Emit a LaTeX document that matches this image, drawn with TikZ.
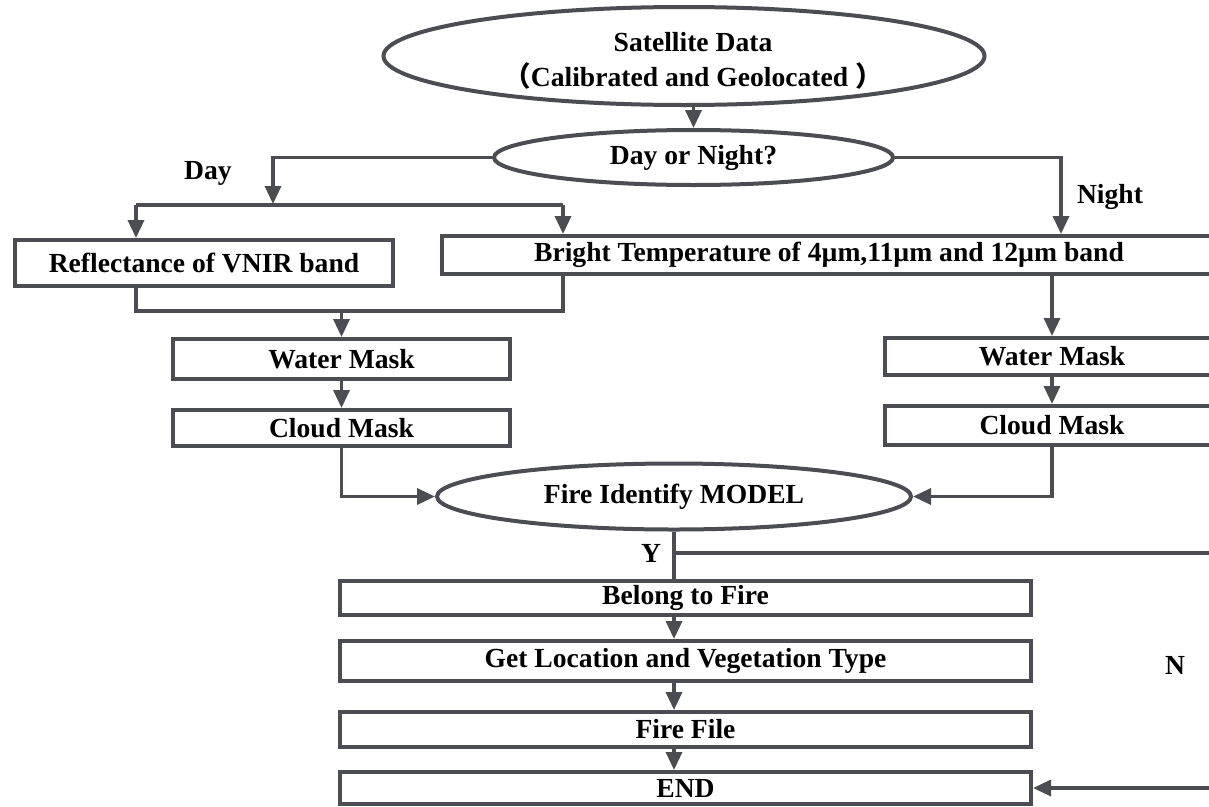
\documentclass[tikz,border=0pt]{standalone}
\usepackage{fontspec}
\setmainfont{Liberation Serif}
\newfontfamily\cjk{Noto Sans CJK SC}
\usetikzlibrary{arrows.meta,shapes.geometric,calc}
\definecolor{linegrey}{RGB}{76,77,83}
\begin{document}
\begin{tikzpicture}[x=1pt,y=-1pt,
  every node/.style={font=\fontsize{27.6}{35}\selectfont\bfseries, text=black},
  box/.style={draw=linegrey, line width=4pt, fill=white, inner sep=0pt},
  oval/.style={ellipse, draw=linegrey, line width=4pt, fill=white, inner sep=0pt},
  link/.style={draw=linegrey, line width=3.4pt},
  arr/.style={link, -{Triangle[length=18pt,width=16pt]}},
  lbl/.style={inner sep=0pt}
]
\useasboundingbox (0,0) rectangle (1209,806);
\fill[white] (0,0) rectangle (1209,806);
\clip (0,0) rectangle (1209,806);

% ---- ovals ----
\node[oval, minimum width=601pt, minimum height=98pt] (sat) at (684,56) {};
\node[align=center, lbl] (sattxt) at (693,61)
  {Satellite Data\\{\cjk （}Calibrated and Geolocated {\cjk ）}};
\node[oval, minimum width=399pt, minimum height=55pt] (dn) at (693.5,157.5) {Day or Night?};
\node[oval, minimum width=474pt, minimum height=66pt] (fire) at (674,496.5) {Fire Identify MODEL};

% ---- first-level boxes ----
\node[box, minimum width=378pt, minimum height=46pt] (refl) at (204,263) {Reflectance of VNIR band};
\node[box, minimum width=774pt, minimum height=38pt] (bright) at (829,255)
  {Bright Temperature of 4µm,11µm and 12µm band};

% ---- masks, day branch ----
\node[box, minimum width=337pt, minimum height=40pt] (wml) at (341.5,359) {Water Mask};
\node[box, minimum width=337pt, minimum height=36pt] (cml) at (341.5,428) {Cloud Mask};

% ---- masks, night branch ----
\node[box, minimum width=334pt, minimum height=37pt] (wmr) at (1052,356.5) {Water Mask};
\node[box, minimum width=334pt, minimum height=39pt] (cmr) at (1052,425.5) {Cloud Mask};

% ---- result boxes ----
\node[box, minimum width=691pt, minimum height=34pt] (belong) at (685.5,598) {Belong to Fire};
\node[box, minimum width=691pt, minimum height=40pt] (getloc) at (685.5,661) {Get Location and Vegetation Type};
\node[box, minimum width=691pt, minimum height=35pt] (firefile) at (685.5,729.5) {Fire File};
\node[box, minimum width=691pt, minimum height=32pt] (endbox) at (685.5,788) {END};

% ---- labels ----
\node[lbl] (daylbl) at (208,173) {Day};
\node[lbl] (nightlbl) at (1110,197) {Night};
\node[lbl] (ylbl) at (651,553) {Y};
\node[lbl] (nlbl) at (1175,665) {N};

% ---- helper points ----
\coordinate (dayjoin) at (273,204);
\coordinate (busL) at (136,205);
\coordinate (busR) at (563,205);
\coordinate (nightx) at (1061,0);
\coordinate (mergeL) at (136,311);
\coordinate (mergeR) at (563,311);
\coordinate (ybr) at (674,553);
\coordinate (nright) at (1240,553);

% ---- connectors ----
\draw[arr] (sat.south -| dn.north) -- (dn.north);
\draw[arr] (dn.west) -| (dayjoin);
\draw[link] (busL) -- (busR);
\draw[arr] (busL) -- (busL |- refl.north);
\draw[arr] (busR) -- (busR |- bright.north);
\draw[arr] (dn.east) -| (bright.north -| nightx);

\draw[link] (refl.south -| mergeL) |- (mergeR) -- (bright.south -| mergeR);
\draw[arr] (wml.north |- mergeL) -- (wml.north);
\draw[arr] (wml.south) -- (cml.north);
\draw[arr] (cml.south) |- (fire.west);

\draw[arr] (bright.south -| wmr.north) -- (wmr.north);
\draw[arr] (wmr.south) -- (cmr.north);
\draw[arr] (cmr.south) |- (fire.east);

\draw[link] (fire.south) -- (belong.north -| fire.south);
\draw[arr] (ybr) -- (nright) |- (endbox.east);
\draw[arr] (belong.south -| ybr) -- (getloc.north -| ybr);
\draw[arr] (getloc.south -| ybr) -- (firefile.north -| ybr);
\draw[arr] (firefile.south -| ybr) -- (endbox.north -| ybr);
\end{tikzpicture}
\end{document}
